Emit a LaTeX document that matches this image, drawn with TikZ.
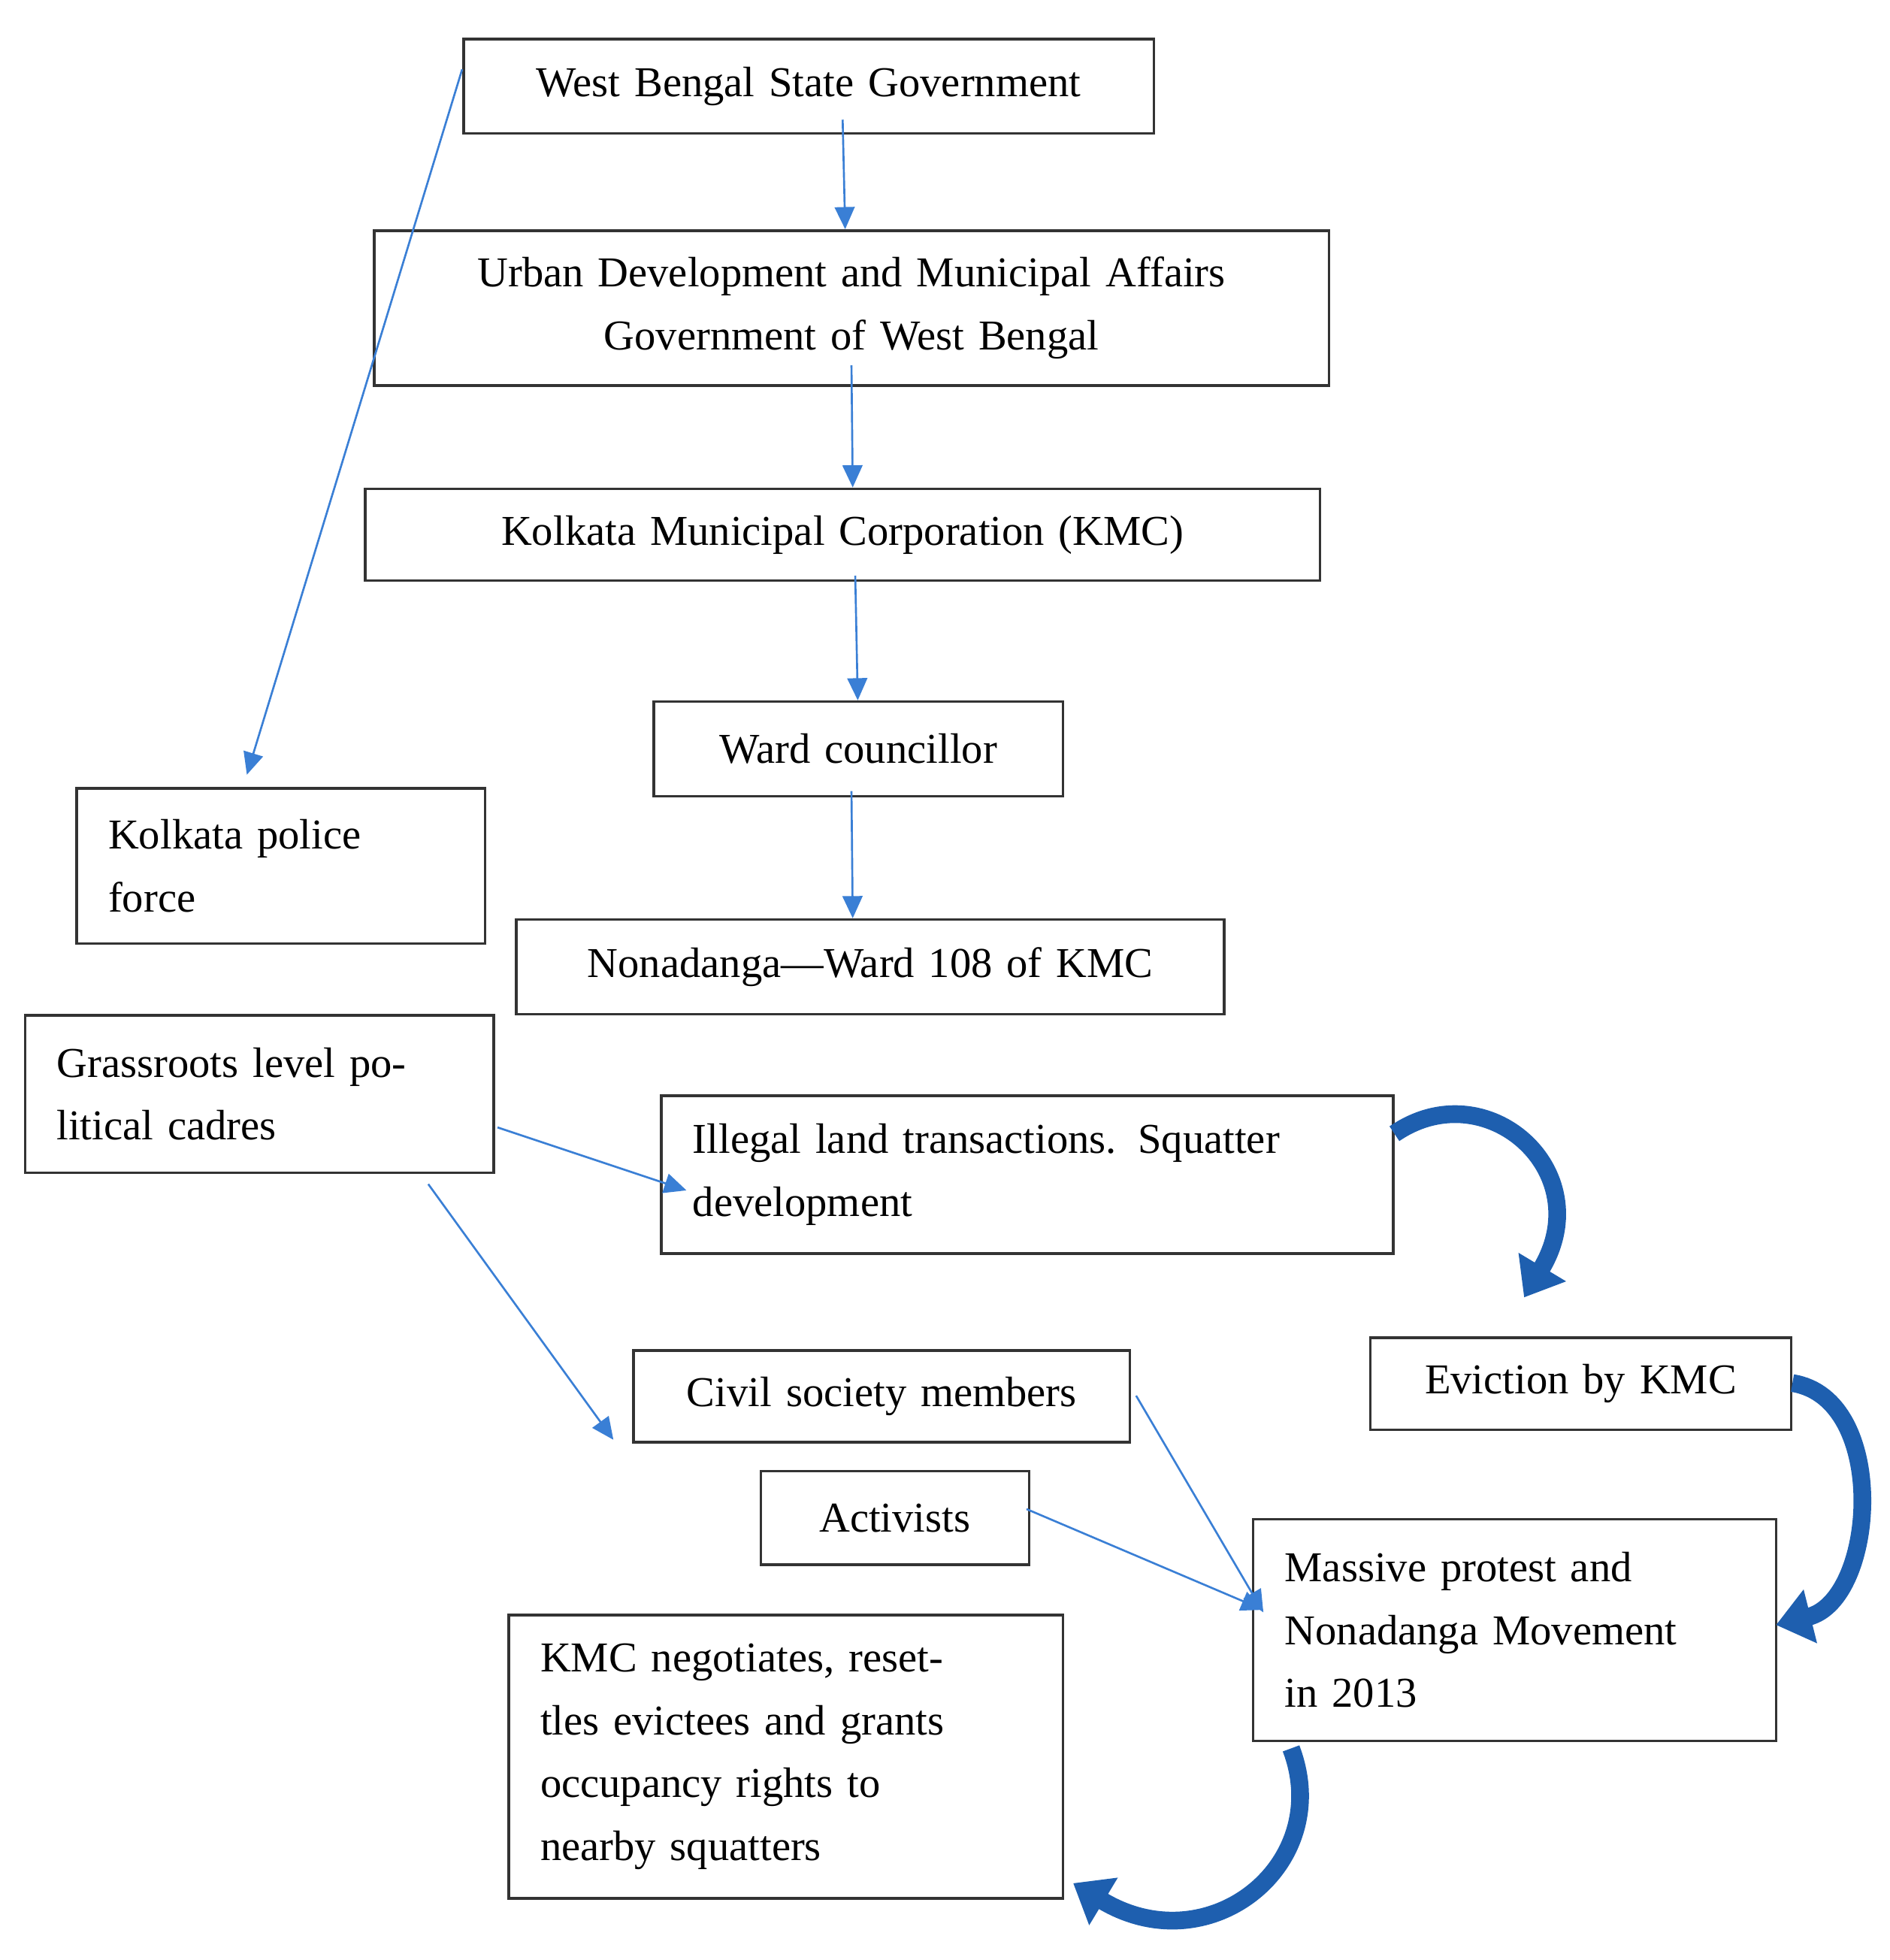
\documentclass[tikz,border=0pt]{standalone}
\usepackage{fontspec}
\setmainfont{Liberation Serif}
\usetikzlibrary{arrows.meta}
\begin{document}
\begin{tikzpicture}[x=0.01cm,y=-0.01cm,
  box/.style={draw=black!80,line width=0.6pt,inner xsep=0.25cm,inner ysep=0pt,font=\fontsize{9.6}{14.2}\selectfont},
  thin/.style={draw={rgb,255:red,58;green,127;blue,213},line width=0.45pt,-{Triangle[length=5pt,width=4.5pt]}},
  fat/.style={draw={rgb,255:red,30;green,95;blue,175},line width=4pt,-{Triangle[length=8pt,width=12pt]}}]
\useasboundingbox (0,0) rectangle (1500,1556);
\newcommand\bx[7]{% name x1 y1 x2 y2 align text
  \node[box,minimum width={(#4-#2)*0.01cm},minimum height={(#5-#3)*0.01cm},text width={(#4-#2-40)*0.01cm},align=#6] (#1) at ({(#2+#4)/2},{(#3+#5)/2}) {#7};}
\bx{b1}{373}{31}{911}{106}{center}{West Bengal State Government}
\bx{b2}{302}{183}{1050}{306}{center}{Urban Development and Municipal Affairs\\Government of West Bengal}
\bx{b3}{295}{388}{1043}{461}{center}{Kolkata Municipal Corporation (KMC)}
\bx{b4}{524}{557}{839}{632}{center}{Ward councillor}
\bx{b5}{415}{730}{967}{805}{center}{Nonadanga—Ward 108 of KMC}
\bx{b6}{66}{626}{380}{749}{left}{Kolkata police\\force}
\bx{b7}{25}{806}{387}{931}{left}{Grassroots level po-\\litical cadres}
\bx{b8}{530}{870}{1101}{995}{left}{Illegal land transactions. Squatter\\development}
\bx{b9}{1093}{1062}{1417}{1135}{center}{Eviction by KMC}
\bx{b10}{508}{1072}{892}{1145}{center}{Civil society members}
\bx{b11}{609}{1168}{812}{1242}{center}{Activists}
\bx{b12}{1000}{1206}{1405}{1382}{left}{Massive protest and\\Nonadanga Movement\\in 2013}
\bx{b13}{409}{1282}{839}{1507}{left}{KMC negotiates, reset-\\tles evictees and grants\\occupancy rights to\\nearby squatters}
\coordinate (p1) at (196,615);
\coordinate (p2) at (487,1143);
\draw[thin] (669,95) -- (b2.north -| 671,0);
\draw[thin] (676,290) -- (b3.north -| 677,0);
\draw[thin] (679,457) -- (b4.north -| 681,0);
\draw[thin] (676,628) -- (b5.north -| 677,0);
\draw[thin] (b1.west |- 0,55) -- (p1);
\draw[thin] (395,895) -- (545,945);
\draw[thin] (340,940) -- (p2);
\draw[thin] (902,1108) -- (1003,1280);
\draw[thin] (815,1198) -- (1003,1278);
\draw[fat] (b8.north east |- 0,900) .. controls (1180,850) and (1270,930) .. (1210,1030);
\draw[fat] (b9.east |- 0,1098) .. controls (1500,1110) and (1490,1270) .. (1410,1290);
\draw[fat] (1025,1388) .. controls (1060,1480) and (960,1560) .. (852,1495);
\end{tikzpicture}
\end{document}
